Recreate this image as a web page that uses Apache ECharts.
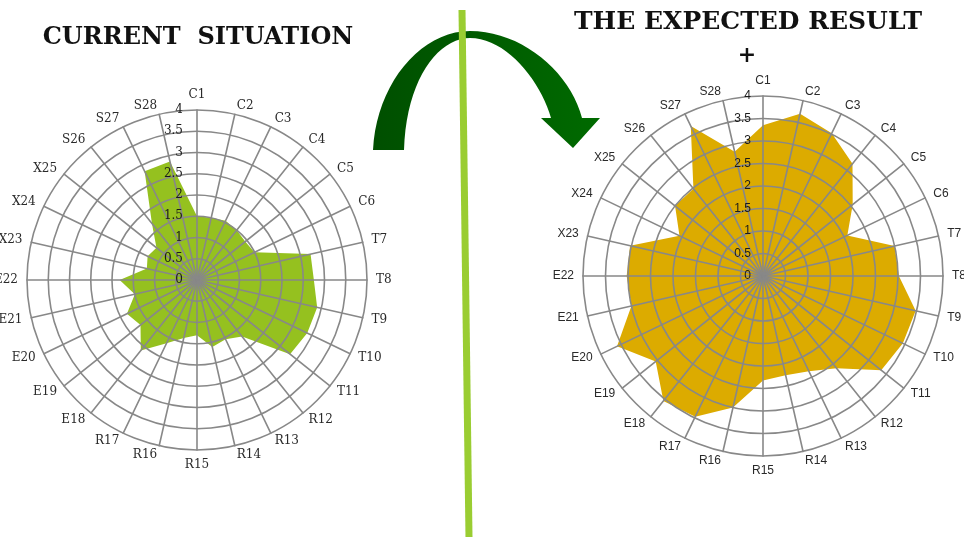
<!DOCTYPE html>
<html>
<head>
<meta charset="utf-8">
<script src="https://cdn.jsdelivr.net/npm/echarts@6/dist/echarts.min.js"></script>
<style>
  html, body { margin: 0; padding: 0; background: #fff; }
  #main { width: 964px; height: 537px; }
</style>
</head>
<body>
<div id="main"></div>
<script>
// indicators, clockwise from the top
const axisNames = ['C1', 'C2', 'C3', 'C4', 'C5', 'C6', 'T7', 'T8', 'T9', 'T10', 'T11',
  'R12', 'R13', 'R14', 'R15', 'R16', 'R17', 'E18', 'E19', 'E20', 'E21', 'E22',
  'X23', 'X24', 'X25', 'S26', 'S27', 'S28'];
const axisMin = 0;
const axisMax = 4;
const axisSteps = 8; // 0, 0.5, ... 4

// current situation (green)
const currentValues = [1.5, 1.5, 1.55, 1.5, 1.45, 1.5, 2.74, 2.75, 2.9, 2.88, 2.8,
  1.7, 1.55, 1.62, 1.3, 1.4, 1.65, 2.12, 1.7, 1.83, 1.5, 1.82,
  1.21, 1.29, 1.22, 1.7, 2.84, 2.86];
// expected result (gold)
const expectedValues = [3.35, 3.7, 3.52, 3.19, 2.55, 2.08, 3.0, 3.02, 3.48, 3.45, 3.36,
  2.62, 2.35, 2.26, 2.32, 3.0, 3.47, 3.55, 3.05, 3.6, 3.0, 3.03,
  3.03, 2.06, 2.5, 2.48, 3.7, 2.83];

// echarts lays radar axes out counter-clockwise, so flip the order after the first
function clockwise(arr) {
  return [arr[0]].concat(arr.slice(1).reverse());
}

const gridColor = '#888888';

function makeRadar(center, radius, font, nameGap, labelMargin) {
  return {
    center: center,
    radius: radius,
    shape: 'circle',
    startAngle: 90,
    splitNumber: axisSteps,
    z: 3,
    nameGap: nameGap,
    indicator: clockwise(axisNames).map(function (n, i) {
      let ind = { name: n, min: axisMin, max: axisMax };
      if (i === 0) ind.axisLabel = { show: true };
      return ind;
    }),
    axisName: { color: '#2a2a2a', fontFamily: font, fontSize: 12 },
    splitLine: { lineStyle: { color: gridColor, width: 1.6 } },
    splitArea: { show: false },
    axisLine: { lineStyle: { color: gridColor, width: 1.6 } },
    axisTick: { show: false },
    axisLabel: { show: false, fontFamily: font, fontSize: 12, color: '#1a1a1a', margin: labelMargin }
  };
}

// sample a cubic bezier for the arrow outline
function cubic(p0, p1, p2, p3, n) {
  let pts = [];
  for (let i = 0; i <= n; i++) {
    let t = i / n, u = 1 - t;
    pts.push([
      u * u * u * p0[0] + 3 * u * u * t * p1[0] + 3 * u * t * t * p2[0] + t * t * t * p3[0],
      u * u * u * p0[1] + 3 * u * u * t * p1[1] + 3 * u * t * t * p2[1] + t * t * t * p3[1]
    ]);
  }
  return pts;
}
let arrowPts = []
  .concat(cubic([373, 150], [376, 85], [420, 31], [470, 31], 20))
  .concat(cubic([470, 31], [522, 31], [570, 72], [582, 118], 20))
  .concat([[600, 118], [573, 148], [541, 118], [551, 118]])
  .concat(cubic([551, 118], [540, 80], [506, 38], [470, 38], 20))
  .concat(cubic([470, 38], [438, 38], [406, 80], [404, 150], 20));

let chart = echarts.init(document.getElementById('main'));
let option = {
  backgroundColor: '#fff',
  animation: false,
  radar: [
    makeRadar([197, 280], 170, 'DejaVu Serif', 9, 14),
    makeRadar([763, 276], 180, 'Liberation Sans', 9, 12)
  ],
  series: [
    {
      type: 'radar',
      radarIndex: 0,
      symbol: 'none',
      lineStyle: { width: 0, opacity: 0 },
      areaStyle: { color: '#95c11f', opacity: 1 },
      data: [{ name: 'CURRENT SITUATION', value: clockwise(currentValues) }]
    },
    {
      type: 'radar',
      radarIndex: 1,
      symbol: 'none',
      lineStyle: { width: 0, opacity: 0 },
      areaStyle: { color: '#dcab00', opacity: 1 },
      data: [{ name: 'THE EXPECTED RESULT', value: clockwise(expectedValues) }]
    }
  ],
  graphic: [
    {
      type: 'polygon',
      shape: { points: arrowPts },
      style: {
        fill: new echarts.graphic.LinearGradient(0, 0, 1, 0, [
          { offset: 0, color: '#004f00' },
          { offset: 1, color: '#006a00' }
        ])
      },
      z: 5
    },
    {
      type: 'line',
      shape: { x1: 462, y1: 10, x2: 469, y2: 537 },
      style: { stroke: '#9acd32', lineWidth: 7 },
      z: 6
    },
    {
      type: 'text',
      x: 198, y: 38,
      style: {
        text: 'CURRENT  SITUATION', fill: '#111', font: 'bold 24px "DejaVu Serif"',
        textAlign: 'center', textVerticalAlign: 'middle'
      },
      z: 7
    },
    {
      type: 'text',
      x: 748, y: 22,
      style: {
        text: 'THE EXPECTED RESULT', fill: '#111', font: 'bold 25px "DejaVu Serif"',
        textAlign: 'center', textVerticalAlign: 'middle'
      },
      z: 7
    },
    {
      type: 'text',
      x: 747, y: 56,
      style: {
        text: '+', fill: '#111', font: 'bold 22px "DejaVu Serif"',
        textAlign: 'center', textVerticalAlign: 'middle'
      },
      z: 7
    }
  ]
};
chart.setOption(option);
</script>
</body>
</html>
